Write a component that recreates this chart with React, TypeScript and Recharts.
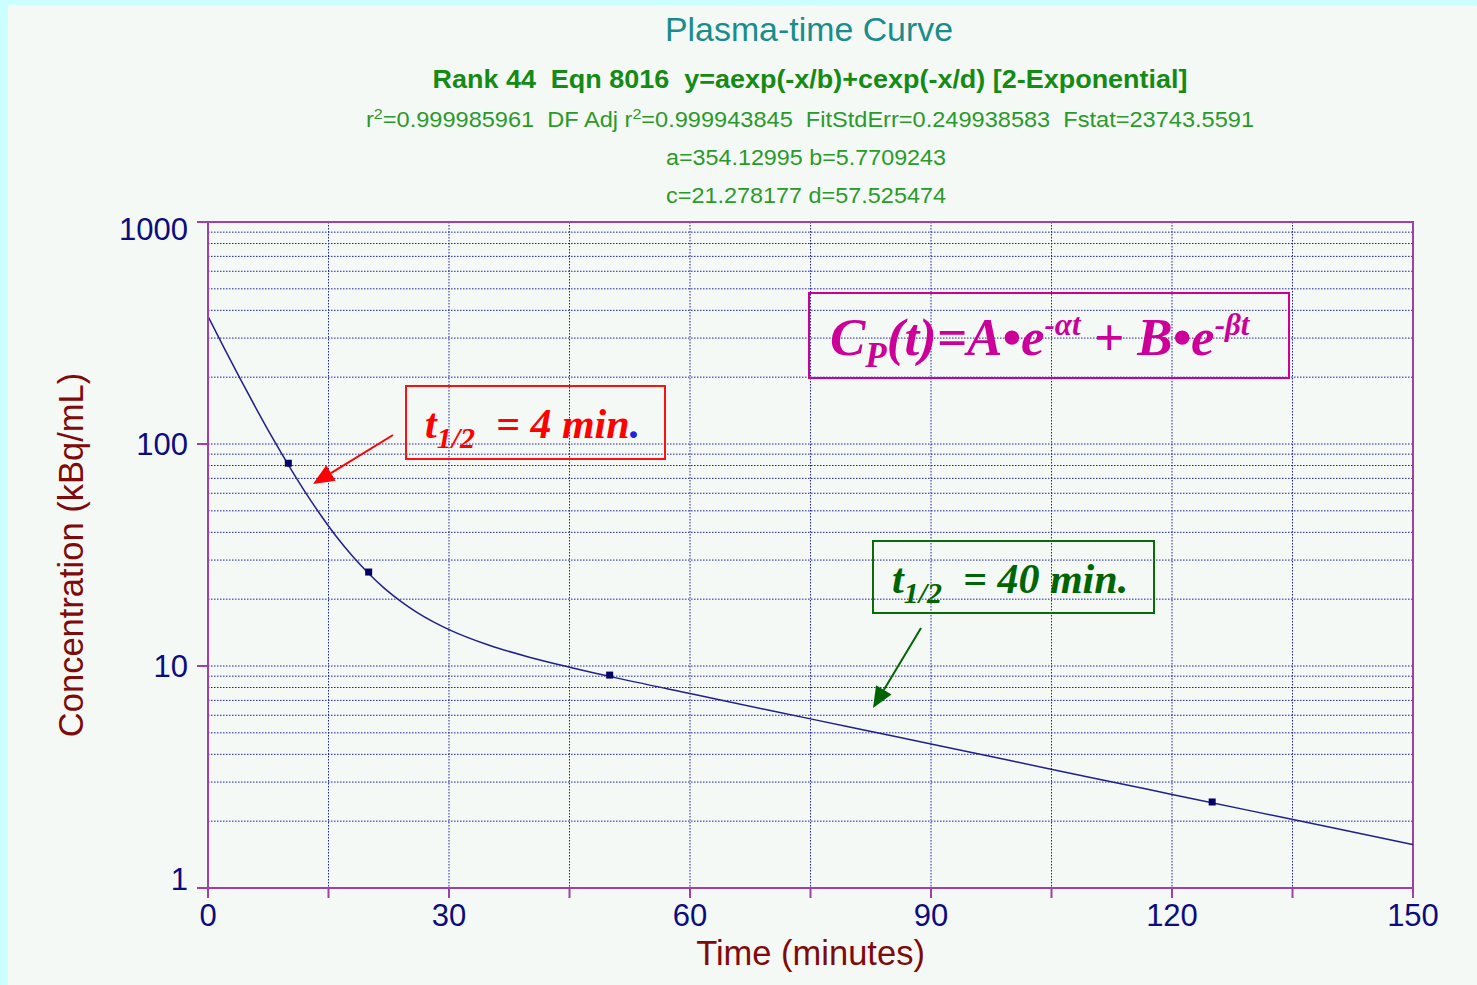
import React from 'react';
import {
  ComposedChart,
  Line,
  Scatter,
  XAxis,
  YAxis,
  CartesianGrid,
  ReferenceArea,
} from 'recharts';

// ---- data ----
const curveTimes = [0, 2, 4, 6, 8, 10, 12, 14, 16, 18, 20, 22, 24, 26, 28, 30, 35, 40, 45, 50, 60, 70, 80, 90, 100, 110, 120, 130, 140, 150];
const curveConc = [375.4, 270.9, 196.9, 144.4, 107.0, 80.5, 61.5, 48.0, 38.2, 31.2, 26.1, 22.3, 19.55, 17.45, 15.85, 14.59, 12.4, 10.96, 9.88, 8.98, 7.51, 6.3, 5.3, 4.45, 3.74, 3.14, 2.64, 2.22, 1.87, 1.57];
const sampleTimes = [10, 20, 50, 125];
const sampleConc = [81.9, 26.5, 9.1, 2.44];

const xTicks = [0, 15, 30, 45, 60, 75, 90, 105, 120, 135, 150];
const xLabelTicks = [0, 30, 60, 90, 120, 150];
const yTicks = [
  1, 2, 3, 4, 5, 6, 7, 8, 9,
  10, 20, 30, 40, 50, 60, 70, 80, 90,
  100, 200, 300, 400, 500, 600, 700, 800, 900,
  1000,
];
const yLabelTicks = [1, 10, 100, 1000];

const curveData = curveTimes.map((x, i) => ({ x, y: curveConc[i] }));
const sampleData = sampleTimes.map((x, i) => ({ x, y: sampleConc[i] }));

// ---- styles ----
const SANS = "Arial, 'Liberation Sans', sans-serif";
const SERIF = "'Times New Roman', 'Liberation Serif', serif";
const PURPLE = '#a040a8';
const NAVY = '#0c0c80';
const DARKRED = '#800a0a';
const GRID = '#1c1ca8';

const YTick = (props: any) => {
  const { x, y, payload } = props;
  const v = payload.value;
  if (!yLabelTicks.includes(v)) return <g />;
  const shift = v === 1000 ? 18 : v === 1 ? 2 : 11;
  return (
    <g>
      <line x1={x} x2={x + 11} y1={y} y2={y} stroke={PURPLE} strokeWidth={2} />
      <text x={x - 9} y={y + shift} textAnchor="end" fontSize={31} fontFamily={SANS} fill={NAVY}>
        {v}
      </text>
    </g>
  );
};

const XTick = (props: any) => {
  const { x, y, payload } = props;
  const v = payload.value;
  return (
    <g>
      <line x1={x} x2={x} y1={y - 10} y2={y} stroke={PURPLE} strokeWidth={2} />
      {xLabelTicks.includes(v) ? (
        <text x={x} y={y + 28} textAnchor="middle" fontSize={31} fontFamily={SANS} fill={NAVY}>
          {v}
        </text>
      ) : null}
    </g>
  );
};

const SquareDot = (props: any) => {
  const { cx, cy } = props;
  if (cx == null || cy == null) return <g />;
  return <rect x={cx - 3.5} y={cy - 3.5} width={7} height={7} fill="#000066" />;
};

function Arrow({ x1, y1, x2, y2, color }: { x1: number; y1: number; x2: number; y2: number; color: string }) {
  const dx = x2 - x1;
  const dy = y2 - y1;
  const len = Math.sqrt(dx * dx + dy * dy);
  const ux = dx / len;
  const uy = dy / len;
  const hl = 21;
  const hw = 9;
  const bx = x2 - ux * hl;
  const by = y2 - uy * hl;
  const px = -uy;
  const py = ux;
  const pts = `${x2},${y2} ${bx + px * hw},${by + py * hw} ${bx - px * hw},${by - py * hw}`;
  return (
    <g>
      <line x1={x1} y1={y1} x2={bx} y2={by} stroke={color} strokeWidth={2} />
      <polygon points={pts} fill={color} />
    </g>
  );
}

export default function App() {
  return (
    <div style={{ position: 'absolute', left: 0, top: 0, width: 1477, height: 985, background: '#ccffff', overflow: 'hidden' }}>
      <div style={{ position: 'absolute', left: 8, top: 5, width: 1469, height: 980, background: '#f4f9f6' }} />
      <div style={{ position: 'absolute', left: 0, top: 0 }}>
        <ComposedChart width={1477} height={985} margin={{ top: 222, right: 64, bottom: 20, left: 58 }}>
          <CartesianGrid stroke={GRID} strokeDasharray="1.5 1.5" strokeWidth={1} />
          <XAxis
            dataKey="x"
            type="number"
            domain={[0, 150]}
            ticks={xTicks}
            interval={0}
            height={77}
            tickSize={10}
            tickMargin={0}
            tickLine={false}
            axisLine={{ stroke: PURPLE, strokeWidth: 2 }}
            tick={<XTick />}
            allowDataOverflow
            label={{
              value: 'Time (minutes)',
              position: 'insideBottom',
              offset: 0,
              fill: DARKRED,
              fontSize: 34.5,
              fontFamily: SANS,
            }}
          />
          <YAxis
            type="number"
            scale="log"
            domain={[1, 1000]}
            ticks={yTicks}
            interval={0}
            width={150}
            tickSize={11}
            tickMargin={0}
            tickLine={false}
            axisLine={{ stroke: PURPLE, strokeWidth: 2 }}
            tick={<YTick />}
            allowDataOverflow
            label={{
              value: 'Concentration (kBq/mL)',
              angle: -90,
              position: 'insideLeft',
              offset: 13,
              fill: DARKRED,
              fontSize: 34.5,
              fontFamily: SANS,
              style: { textAnchor: 'middle' },
            }}
          />
          <ReferenceArea x1={0} x2={150} y1={1} y2={1000} fill="none" fillOpacity={0} stroke={PURPLE} strokeWidth={2} ifOverflow="visible" />
          <Line
            data={curveData}
            dataKey="y"
            type="monotone"
            stroke="#20208a"
            strokeWidth={1.5}
            dot={false}
            activeDot={false}
            isAnimationActive={false}
          />
          <Scatter data={sampleData} dataKey="y" shape={<SquareDot />} isAnimationActive={false} />
        </ComposedChart>
      </div>
      <svg width={1477} height={985} style={{ position: 'absolute', left: 0, top: 0, pointerEvents: 'none' }}>
        <text x={809} y={41} textAnchor="middle" fontSize={33} fontFamily={SANS} fill="#1a8c8c" textLength={288} lengthAdjust="spacingAndGlyphs">
          Plasma-time Curve
        </text>
        <text x={810} y={88} textAnchor="middle" fontSize={25} fontWeight="bold" fontFamily={SANS} fill="#158a15" textLength={755} lengthAdjust="spacingAndGlyphs" xmlSpace="preserve">
          {'Rank 44  Eqn 8016  y=aexp(-x/b)+cexp(-x/d) [2-Exponential]'}
        </text>
        <text x={810} y={127} textAnchor="middle" fontSize={22} fontFamily={SANS} fill="#2a9a2a" textLength={888} lengthAdjust="spacingAndGlyphs" xmlSpace="preserve">
          r<tspan fontSize={15} dy={-8}>2</tspan>
          <tspan dy={8}>{'=0.999985961  DF Adj r'}</tspan>
          <tspan fontSize={15} dy={-8}>2</tspan>
          <tspan dy={8}>{'=0.999943845  FitStdErr=0.249938583  Fstat=23743.5591'}</tspan>
        </text>
        <text x={806} y={165} textAnchor="middle" fontSize={22} fontFamily={SANS} fill="#2a9a2a" textLength={280} lengthAdjust="spacingAndGlyphs">
          a=354.12995 b=5.7709243
        </text>
        <text x={806} y={203} textAnchor="middle" fontSize={22} fontFamily={SANS} fill="#2a9a2a" textLength={280} lengthAdjust="spacingAndGlyphs">
          c=21.278177 d=57.525474
        </text>

        {/* formula box */}
        <rect x={809} y={293} width={480} height={85} fill="none" stroke="#cc0099" strokeWidth={2} />
        <text x={830} y={355} fontSize={53} fontWeight="bold" fontStyle="italic" fontFamily={SERIF} fill="#cc0099" xmlSpace="preserve">
          C<tspan fontSize={35} dy={12}>P</tspan>
          <tspan fontSize={53} dy={-12}>(t)=A•e</tspan>
          <tspan fontSize={31} dy={-20}>-αt</tspan>
          <tspan fontSize={53} dy={20}>{' + B•e'}</tspan>
          <tspan fontSize={31} dy={-20}>-βt</tspan>
        </text>

        {/* red half-life box */}
        <rect x={406} y={386} width={259} height={73} fill="none" stroke="#ff1010" strokeWidth={2} />
        <text x={425} y={438} fontSize={42} fontWeight="bold" fontStyle="italic" fontFamily={SERIF} fill="#ff0000" xmlSpace="preserve">
          t<tspan fontSize={30} dy={10}>1/2</tspan>
          <tspan fontSize={42} dy={-10}>{'  = 4 min'}</tspan>
          <tspan fill="#2020e0">.</tspan>
        </text>
        <Arrow x1={393} y1={435} x2={313} y2={484} color="#ff0000" />

        {/* green half-life box */}
        <rect x={873} y={541} width={281} height={72} fill="none" stroke="#0b6b0b" strokeWidth={2} />
        <text x={892} y={593} fontSize={42} fontWeight="bold" fontStyle="italic" fontFamily={SERIF} fill="#006400" xmlSpace="preserve">
          t<tspan fontSize={30} dy={10}>1/2</tspan>
          <tspan fontSize={42} dy={-10}>{'  = 40 min.'}</tspan>
        </text>
        <Arrow x1={921} y1={628} x2={873} y2={708} color="#006400" />
      </svg>
    </div>
  );
}
